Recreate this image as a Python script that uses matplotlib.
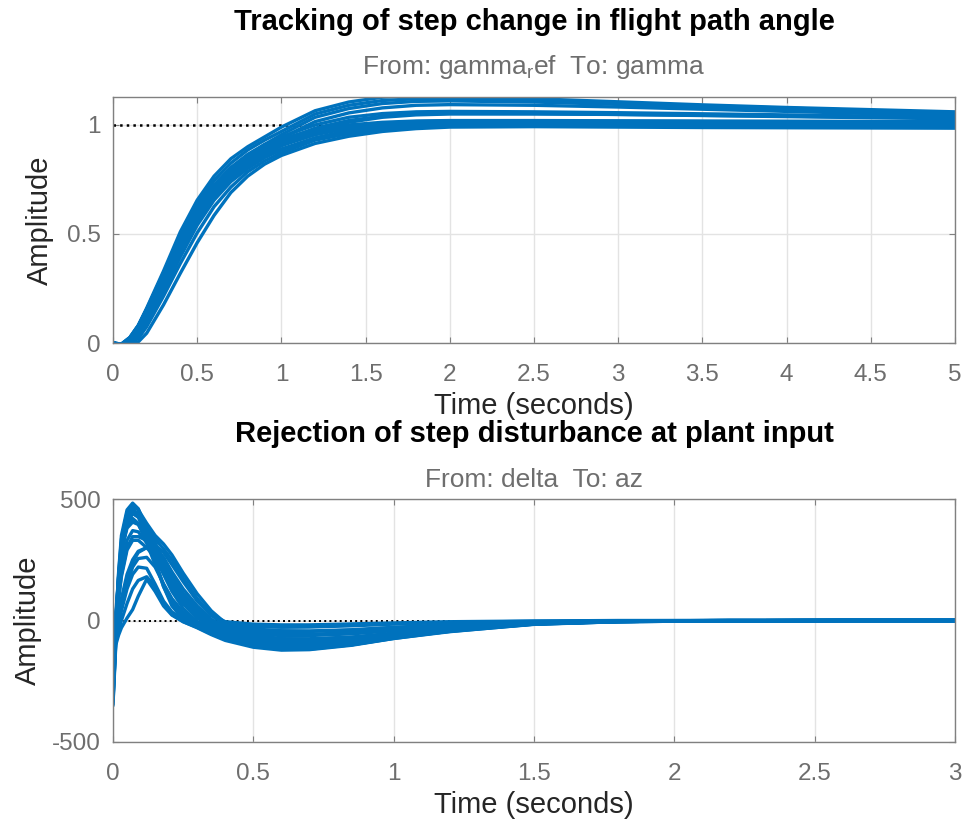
import matplotlib
matplotlib.use('Agg')
import matplotlib.pyplot as plt

# time grids (s)
t_track = [0, 0.05, 0.1, 0.15, 0.2, 0.3, 0.4, 0.5, 0.6, 0.7, 0.8, 0.9, 1.0,
           1.2, 1.4, 1.6, 1.8, 2.0, 2.5, 3.0, 3.5, 4.0, 4.5, 5.0]
t_rej = [0, 0.01, 0.02, 0.03, 0.05, 0.07, 0.09, 0.12, 0.15, 0.18, 0.21, 0.25,
         0.3, 0.35, 0.4, 0.5, 0.6, 0.7, 0.85, 1.0, 1.2, 1.5, 1.8, 2.2, 2.6, 3.0]

# tracking responses (gamma_ref -> gamma)
track_1 = [0, -0.005, 0.025, 0.08, 0.16, 0.33, 0.51, 0.655, 0.765, 0.845, 0.90, 0.945, 0.99,
           1.065, 1.105, 1.127, 1.135, 1.134, 1.12, 1.106, 1.092, 1.08, 1.07, 1.06]
track_2 = [0, -0.008, 0.02, 0.075, 0.15, 0.315, 0.49, 0.635, 0.745, 0.825, 0.885, 0.93, 0.97,
           1.05, 1.09, 1.112, 1.12, 1.12, 1.112, 1.10, 1.088, 1.077, 1.066, 1.055]
track_3 = [0, -0.008, 0.02, 0.07, 0.14, 0.30, 0.46, 0.60, 0.71, 0.795, 0.86, 0.91, 0.955,
           1.035, 1.075, 1.098, 1.108, 1.11, 1.105, 1.094, 1.082, 1.07, 1.058, 1.045]
track_4 = [0, -0.005, 0.025, 0.08, 0.155, 0.32, 0.48, 0.62, 0.725, 0.805, 0.865, 0.91, 0.945,
           1.0, 1.035, 1.052, 1.06, 1.062, 1.06, 1.056, 1.051, 1.046, 1.041, 1.036]
track_5 = [0, -0.01, 0.015, 0.065, 0.135, 0.29, 0.445, 0.59, 0.70, 0.785, 0.845, 0.89, 0.925,
           0.985, 1.02, 1.04, 1.05, 1.053, 1.052, 1.048, 1.043, 1.038, 1.033, 1.028]
track_6 = [0, -0.005, 0.025, 0.08, 0.155, 0.32, 0.475, 0.615, 0.72, 0.80, 0.86, 0.90, 0.935,
           0.98, 1.0, 1.012, 1.018, 1.02, 1.02, 1.019, 1.018, 1.017, 1.016, 1.015]
track_7 = [0, -0.008, 0.02, 0.07, 0.14, 0.30, 0.46, 0.60, 0.705, 0.785, 0.845, 0.89, 0.925,
           0.97, 0.995, 1.008, 1.015, 1.017, 1.017, 1.016, 1.015, 1.014, 1.013, 1.012]
track_8 = [0, -0.01, 0.015, 0.065, 0.13, 0.285, 0.445, 0.585, 0.69, 0.77, 0.83, 0.875, 0.91,
           0.96, 0.99, 1.005, 1.012, 1.015, 1.015, 1.013, 1.012, 1.011, 1.01, 1.01]
track_9 = [0, -0.01, 0.01, 0.05, 0.115, 0.265, 0.425, 0.57, 0.68, 0.765, 0.825, 0.87, 0.905,
           0.955, 0.985, 1.0, 1.008, 1.01, 1.01, 1.008, 1.007, 1.006, 1.005, 1.005]
track_10 = [0, -0.01, 0.005, 0.04, 0.10, 0.245, 0.405, 0.55, 0.66, 0.745, 0.81, 0.855, 0.89,
            0.94, 0.97, 0.99, 1.0, 1.005, 1.005, 1.004, 1.003, 1.002, 1.002, 1.002]
track_11 = [0, -0.01, 0.0, 0.02, 0.075, 0.215, 0.365, 0.505, 0.625, 0.715, 0.785, 0.835, 0.872,
            0.93, 0.96, 0.98, 0.99, 0.995, 0.998, 0.998, 0.997, 0.997, 0.996, 0.996]
track_12 = [0, -0.005, -0.008, 0.005, 0.045, 0.175, 0.32, 0.46, 0.585, 0.69, 0.765, 0.82, 0.86,
            0.915, 0.948, 0.97, 0.983, 0.99, 0.992, 0.99, 0.988, 0.987, 0.986, 0.985]
track_13 = [0, -0.01, 0.01, 0.05, 0.115, 0.265, 0.43, 0.575, 0.69, 0.78, 0.845, 0.895, 0.94,
            1.015, 1.055, 1.078, 1.09, 1.093, 1.09, 1.082, 1.072, 1.062, 1.052, 1.042]
track_14 = [0, -0.01, 0.005, 0.04, 0.10, 0.245, 0.405, 0.55, 0.665, 0.755, 0.82, 0.865, 0.905,
            0.975, 1.012, 1.035, 1.046, 1.05, 1.05, 1.048, 1.044, 1.04, 1.036, 1.032]
track_15 = [0, -0.01, 0.0, 0.03, 0.09, 0.235, 0.395, 0.54, 0.655, 0.74, 0.80, 0.85, 0.885,
            0.94, 0.975, 0.995, 1.005, 1.01, 1.012, 1.012, 1.011, 1.01, 1.01, 1.01]
track_16 = [0, -0.01, 0.015, 0.065, 0.135, 0.295, 0.455, 0.595, 0.70, 0.78, 0.84, 0.885, 0.92,
            0.965, 0.99, 1.003, 1.01, 1.012, 1.012, 1.011, 1.01, 1.009, 1.008, 1.008]
track_curves = [track_1, track_2, track_3, track_4, track_5, track_6, track_7, track_8,
                track_9, track_10, track_11, track_12, track_13, track_14, track_15, track_16]

# disturbance rejection responses (delta -> az)
rej_1 = [-300, -20, 200, 350, 455, 483, 460, 370, 250, 140, 60, 5, -25, -45, -60,
         -80, -92, -95, -85, -65, -42, -15, -5, -1, 0, 0]
rej_2 = [-250, 0, 180, 320, 430, 470, 455, 400, 350, 315, 270, 195, 110, 40, -10,
         -25, -28, -27, -22, -15, -8, -3, -1, 0, 0, 0]
rej_3 = [-347, -100, -60, -30, 10, 45, 100, 170, 120, 60, 22, -5, -28, -55, -78,
         -105, -118, -118, -100, -72, -42, -12, -4, -1, 0, 0]
rej_4 = [-200, 30, 180, 290, 380, 405, 395, 330, 280, 220, 160, 90, 30, -10, -35,
         -60, -75, -78, -70, -55, -35, -12, -4, -1, 0, 0]
rej_5 = [-150, -40, 20, 80, 170, 240, 280, 300, 290, 240, 180, 110, 40, -10, -40,
         -70, -85, -88, -80, -62, -40, -14, -4, -1, 0, 0]
rej_6 = [-330, -60, 150, 300, 430, 460, 430, 340, 260, 190, 120, 50, -5, -35, -55,
         -85, -100, -102, -92, -70, -45, -16, -5, -1, 0, 0]
rej_7 = [-280, -80, -20, 40, 130, 190, 220, 215, 150, 80, 35, 5, -20, -45, -68,
         -95, -110, -112, -96, -70, -42, -13, -4, -1, 0, 0]
rej_8 = [-220, 10, 120, 220, 330, 370, 365, 320, 300, 260, 200, 130, 60, 5, -25,
         -45, -55, -57, -50, -38, -24, -8, -2, 0, 0, 0]
rej_9 = [-280, -10, 190, 335, 445, 478, 458, 385, 300, 220, 150, 80, 20, -15, -35,
         -55, -62, -62, -55, -42, -27, -9, -3, 0, 0, 0]
rej_10 = [-240, 10, 170, 300, 410, 440, 425, 360, 290, 210, 140, 70, 15, -20, -45,
          -70, -82, -85, -77, -60, -38, -13, -4, -1, 0, 0]
rej_11 = [-180, -60, 0, 60, 150, 220, 255, 260, 220, 150, 90, 35, -5, -35, -58,
          -85, -100, -103, -90, -66, -41, -13, -4, -1, 0, 0]
rej_12 = [-300, -30, 90, 190, 300, 345, 345, 330, 310, 280, 230, 160, 80, 20, -15,
          -35, -42, -43, -38, -28, -17, -6, -2, 0, 0, 0]
rej_13 = [-320, -90, -40, 0, 70, 130, 165, 180, 140, 70, 25, -5, -30, -58, -82,
          -110, -122, -120, -102, -74, -44, -13, -4, -1, 0, 0]
rej_14 = [-340, -80, 120, 270, 410, 455, 440, 350, 240, 140, 70, 15, -20, -50, -70,
          -98, -112, -114, -100, -74, -46, -15, -5, -1, 0, 0]
rej_15 = [-260, -20, 150, 280, 400, 440, 430, 380, 335, 295, 250, 175, 90, 25, -5,
          -15, -18, -18, -14, -10, -5, -2, 0, 0, 0, 0]
rej_16 = [-230, 0, 160, 290, 405, 450, 440, 385, 320, 250, 185, 110, 45, 0, -25,
          -40, -45, -45, -40, -30, -19, -6, -2, 0, 0, 0]
rej_17 = [-190, -20, 90, 180, 290, 330, 330, 300, 260, 200, 140, 70, 10, -25, -48,
          -68, -75, -75, -68, -52, -32, -11, -3, 0, 0, 0]
rej_18 = [-310, -40, 140, 280, 390, 420, 400, 320, 230, 150, 85, 25, -15, -42, -62,
          -88, -97, -98, -88, -66, -42, -14, -4, -1, 0, 0]
rej_19 = [-260, -60, 20, 90, 190, 250, 285, 300, 295, 250, 185, 110, 40, -12, -42,
          -75, -90, -92, -84, -64, -40, -13, -4, -1, 0, 0]
rej_curves = [rej_1, rej_2, rej_3, rej_4, rej_5, rej_6, rej_7, rej_8, rej_9, rej_10,
              rej_11, rej_12, rej_13, rej_14, rej_15, rej_16, rej_17, rej_18, rej_19]

track_xticks = [0, 0.5, 1, 1.5, 2, 2.5, 3, 3.5, 4, 4.5, 5]
track_yticks = [0, 0.5, 1]
rej_xticks = [0, 0.5, 1, 1.5, 2, 2.5, 3]
rej_yticks = [-500, 0, 500]

plt.rcParams['font.family'] = ['Liberation Sans', 'DejaVu Sans']
plt.rcParams['mathtext.fontset'] = 'custom'
plt.rcParams['mathtext.rm'] = 'Liberation Sans'
plt.rcParams['mathtext.it'] = 'Liberation Sans'

BLUE = '#0072BD'
AXC = '#808080'
TICKC = '#6e6e6e'
W, H = 966, 825

fig = plt.figure(figsize=(W / 100, H / 100), dpi=100)
ax1 = fig.add_axes([113 / W, 1 - 343 / H, 842 / W, 246 / H])
ax2 = fig.add_axes([113 / W, 1 - 742 / H, 842 / W, 243 / H])


def style_axes(ax, xticks, yticks, xlim, ylim):
    ax.set_xlim(*xlim)
    ax.set_ylim(*ylim)
    ax.set_xticks(xticks)
    ax.set_yticks(yticks)
    ax.set_xticklabels(['%g' % v for v in xticks])
    ax.set_yticklabels(['%g' % v for v in yticks])
    ax.grid(True, color='#e3e3e3', linewidth=1.0, zorder=0)
    ax.set_axisbelow(True)
    for s in ax.spines.values():
        s.set_color(AXC)
        s.set_linewidth(1.0)
    ax.tick_params(direction='in', length=4.5, width=0.8, color=AXC,
                   top=True, right=True, labelsize=17.5, labelcolor=TICKC)
    ax.tick_params(axis='x', pad=15)
    ax.tick_params(axis='y', pad=9)
    ax.set_xlabel('Time (seconds)', fontsize=21, color='#262626')
    ax.set_ylabel('Amplitude', fontsize=21, color='#262626')
    ax.yaxis.label.set_va('center')


# top panel
ax1.plot([0, 5], [1, 1], color='black', linestyle=':', linewidth=1.8, zorder=1)
for y in track_curves:
    ax1.plot(t_track, y, color=BLUE, linewidth=2.4, zorder=2)
style_axes(ax1, track_xticks, track_yticks, (0, 5), (0, 1.128))
ax1.xaxis.set_label_coords(0.5, -0.2)
ax1.yaxis.set_label_coords(-0.087, 0.5)

# bottom panel
ax2.plot([0, 3], [0, 0], color='black', linestyle=':', linewidth=1.4, zorder=1)
for y in rej_curves:
    ax2.plot(t_rej, y, color=BLUE, linewidth=2.4, zorder=2)
style_axes(ax2, rej_xticks, rej_yticks, (0, 3), (-500, 500))
ax2.xaxis.set_label_coords(0.5, -0.2)
ax2.yaxis.set_label_coords(-0.101, 0.5)

# titles
xc = (113 + 955) / 2 / W
fig.text(xc, 1 - 30 / H, 'Tracking of step change in flight path angle',
         ha='center', va='baseline', fontsize=21, fontweight='bold')
fig.text(xc, 1 - 74 / H, r'From: gamma$_{\mathrm{r}}$ef  To: gamma',
         ha='center', va='baseline', fontsize=19, color='#6e6e6e')
fig.text(xc, 1 - 442 / H, 'Rejection of step disturbance at plant input',
         ha='center', va='baseline', fontsize=21, fontweight='bold')
fig.text(xc, 1 - 487 / H, 'From: delta  To: az',
         ha='center', va='baseline', fontsize=19, color='#6e6e6e')

fig.savefig('out.png', dpi=100)
